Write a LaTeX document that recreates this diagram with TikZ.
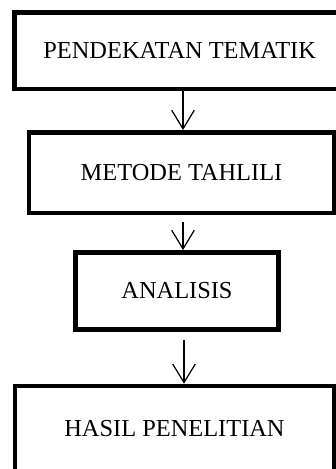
\documentclass[tikz,border=0pt]{standalone}
\usepackage{fontspec}
\setmainfont{Liberation Serif}
\usepackage{tikz}
\usetikzlibrary{arrows,arrows.meta}

\begin{document}
\begin{tikzpicture}[x=0.75pt,y=-0.75pt,
    box/.style={draw,line width=3.4pt,inner sep=0pt,
      font=\fontsize{18.3}{22}\selectfont},
    flow/.style={-{Straight Barb[length=14pt,width=17pt]},line width=0.9pt}]
    \useasboundingbox (0,0) rectangle (336,469);
    \clip (0,0) rectangle (336,469);
    \node[box,minimum width=256pt,minimum height=57.4pt] (tematik) at (185,50.5) {\hspace*{-8pt}PENDEKATAN TEMATIK};
    \node[box,minimum width=229pt,minimum height=60.4pt] (tahlili) at (181.5,172.5) {METODE TAHLILI};
    \node[box,minimum width=152.6pt,minimum height=58.1pt] (analisis) at (177,291) {ANALISIS};
    \node[box,minimum width=239.5pt,minimum height=72pt] (hasil) at (174.5,434) {\raisebox{9pt}{HASIL PENELITIAN}};
    \path[flow]
    (tematik.south -| 183,0) edge (tahlili.north -| 183,0);
    \path[flow,shorten <=5pt]
    (tahlili.south -| 183,0) edge (analisis.north -| 183,0);
    \path[flow,shorten <=6pt]
    (analisis.south -| 184,0) edge (hasil.north -| 184,0);
  \end{tikzpicture}
\end{document}
